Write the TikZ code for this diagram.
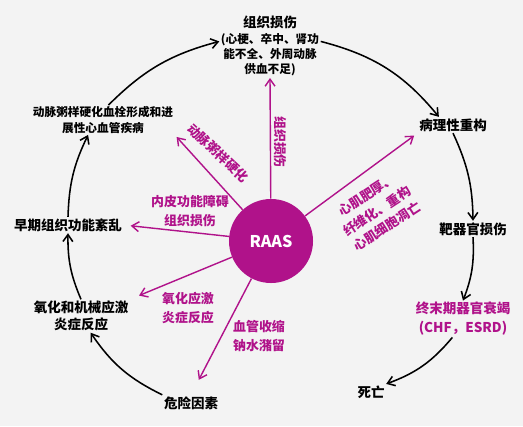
\documentclass[tikz,border=0pt]{standalone}
\usepackage{fontspec}
\setmainfont{Noto Sans CJK SC}
\usetikzlibrary{arrows.meta}
\definecolor{raasmag}{RGB}{176,18,138}
\definecolor{paper}{RGB}{243,243,243}
\begin{document}
\begin{tikzpicture}[x=0.025cm,y=-0.025cm,
    blk/.style={font=\bfseries\fontsize{9.6}{12}\selectfont, align=center, inner sep=1pt},
    sml/.style={font=\bfseries\fontsize{8.3}{10.7}\selectfont, align=center, inner sep=1pt},
    pkl/.style={text=raasmag, font=\bfseries\fontsize{9.2}{13.3}\selectfont, align=center, inner sep=1pt},
    cyc/.style={-{Straight Barb[length=5pt,width=7pt]}, line width=1.1pt},
    pk/.style={-{Straight Barb[length=5pt,width=7pt]}, raasmag, line width=1pt}]
  \fill[paper] (0,0) rectangle (523,426);
  \useasboundingbox (0,0) rectangle (523,426);
  % outer cycle
  \node[blk] (tissue) at (270,22) {组织损伤};
  \node[sml] (tissuenote) at (270,55) {(心梗、卒中、肾功\\能不全、外周动脉\\供血不足)};
  \node[blk] (remod) at (453,125) {病理性重构};
  \node[blk] (target) at (473,229) {靶器官损伤};
  \node[blk, text=raasmag, font=\bfseries\fontsize{9.6}{13.5}\selectfont] (esrd) at (463,319) {终末期器官衰竭\\(CHF，ESRD)};
  \node[blk] (death) at (371,392) {死亡};
  \node[blk] (risk) at (191,403) {危险因素};
  \node[blk] (oxi) at (81,316) {氧化和机械应激\\炎症反应};
  \node[blk] (early) at (68,225) {早期组织功能紊乱};
  \node[sml] (athero) at (103,120) {动脉粥样硬化血栓形成和进\\展性心血管疾病};
  \begin{scope}[cyc]
    \draw (tissuenote.15) to[bend left=18] (remod.150);
    \draw (remod.south) to[bend left=12] (target.north);
    \draw (target.south) to[bend left=12] (esrd.north);
    \draw (esrd.-120) to[bend left=15] (death.north east);
    \draw (risk.north west) to[bend left=15] (oxi.-60);
    \draw (oxi.north) to[bend left=12] (early.south);
    \draw (early.north) to[bend left=12] (athero.-135);
    \draw (athero.70) to[bend left=15] (tissuenote.165);
  \end{scope}
  % RAAS hub
  \node[circle, fill=raasmag, minimum size=2.1cm, text=white,
        font=\bfseries\fontsize{11.5}{13}\selectfont] (raas) at (271,241) {RAAS};
  \begin{scope}[pk]
    \draw (raas) -- (tissuenote.south);
    \draw[shorten >=2pt] (raas) -- (athero.south east);
    \draw[shorten >=5pt] (raas) -- (early.east);
    \draw[shorten >=7pt] (raas) -- (oxi.north east);
    \draw[shorten >=12pt] (raas) -- (risk.north);
    \draw[shorten >=3pt] (raas) -- (remod.south west);
  \end{scope}
  \node[pkl, rotate=-90] (lbltissue) at (280,142) {组织损伤};
  \node[pkl, rotate=-43] (lblathero) at (218,153) {动脉粥样硬化};
  \node[pkl] (lblendo) at (190,211) {内皮功能障碍\\组织损伤};
  \node[pkl] (lbloxi) at (188,308) {氧化应激\\炎症反应};
  \node[pkl] (lblvaso) at (259,336) {血管收缩\\钠水潴留};
  \node[pkl, rotate=33] (lblmyo) at (377,211) {心肌肥厚、\\纤维化、重构\\心肌细胞凋亡};
\end{tikzpicture}
\end{document}
